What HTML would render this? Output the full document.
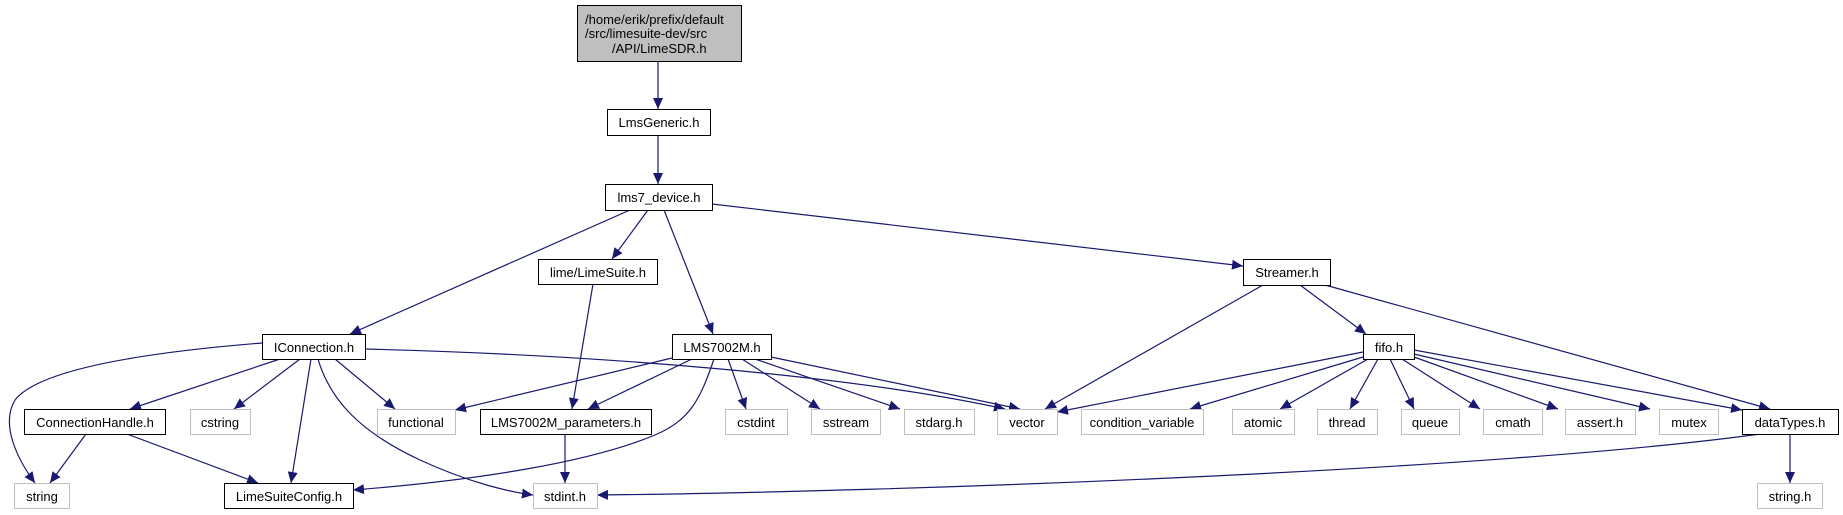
<!DOCTYPE html>
<html><head><meta charset="utf-8"><style>
html,body{margin:0;padding:0;background:#fff;}
svg{display:block;}
text{font-family:"Liberation Sans",Helvetica,sans-serif;font-size:13px;fill:#000;}
</style></head><body>
<svg width="1843" height="515" viewBox="0 0 1843 515" xmlns="http://www.w3.org/2000/svg">
<defs>
<marker id="a" markerUnits="userSpaceOnUse" markerWidth="12" markerHeight="10" refX="11" refY="5" orient="auto">
<path d="M0,0 L11,5 L0,10 Z" fill="#191970"/>
</marker>
</defs>
<g fill="none" stroke="#191970" stroke-width="1.2" marker-end="url(#a)">
<path d="M658,61 L658,109"/>
<path d="M658,135 L658,184"/>
<path d="M630,210 L350,334"/>
<path d="M648,210 L612,259"/>
<path d="M664,210 L713,334"/>
<path d="M712,204 L1243,266"/>
<path d="M593,284 L572,409"/>
<path d="M262,343 C150,352 40,368 15,400 C0,425 18,460 35,483"/>
<path d="M280,359 L130,409"/>
<path d="M300,359 L234,409"/>
<path d="M311,359 L291,483"/>
<path d="M318,359 C330,400 360,432 420,460 C470,483 510,492 533,495"/>
<path d="M335,359 L395,409"/>
<path d="M365,349 C600,355 850,375 1005,409"/>
<path d="M86,434 L50,483"/>
<path d="M127,434 L258,483"/>
<path d="M672,358 L455,410"/>
<path d="M692,359 L588,409"/>
<path d="M714,359 C700,400 690,420 655,435 C590,462 480,480 353,490"/>
<path d="M728,359 L746,409"/>
<path d="M742,359 L820,409"/>
<path d="M755,359 L900,409"/>
<path d="M771,357 L1020,409"/>
<path d="M565,434 L565,483"/>
<path d="M1263,285 L1045,409"/>
<path d="M1300,285 L1366,334"/>
<path d="M1325,285 L1770,409"/>
<path d="M1363,352 L1057,412"/>
<path d="M1363,357 L1190,409"/>
<path d="M1368,359 L1280,409"/>
<path d="M1378,359 L1350,409"/>
<path d="M1390,359 L1414,409"/>
<path d="M1402,359 L1480,409"/>
<path d="M1414,357 L1558,409"/>
<path d="M1414,354 L1650,409"/>
<path d="M1414,350 L1742,410"/>
<path d="M1760,434 C1500,470 900,492 597,495"/>
<path d="M1790,434 L1790,483"/>
</g>
<g stroke-width="1">
<rect x="577.5" y="5.5" width="164" height="56" fill="#bfbfbf" stroke="#000"/>
<g fill="#fff" stroke="#000">
<rect x="607.5" y="109.5" width="103" height="26"/>
<rect x="605.5" y="184.5" width="107" height="26"/>
<rect x="538.5" y="259.5" width="119" height="25"/>
<rect x="1243.5" y="259.5" width="87" height="26"/>
<rect x="262.5" y="334.5" width="103" height="25"/>
<rect x="672.5" y="334.5" width="99" height="25"/>
<rect x="1363.5" y="334.5" width="51" height="25"/>
<rect x="24.5" y="409.5" width="141" height="25"/>
<rect x="480.5" y="409.5" width="171" height="25"/>
<rect x="1742.5" y="409.5" width="96" height="25"/>
<rect x="224.5" y="483.5" width="129" height="25"/>
</g>
<g fill="#fff" stroke="#bfbfbf">
<rect x="190.5" y="409.5" width="60" height="25"/>
<rect x="377.5" y="409.5" width="78" height="25"/>
<rect x="725.5" y="409.5" width="62" height="25"/>
<rect x="811.5" y="409.5" width="69" height="25"/>
<rect x="904.5" y="409.5" width="70" height="25"/>
<rect x="997.5" y="409.5" width="60" height="25"/>
<rect x="1081.5" y="409.5" width="122" height="25"/>
<rect x="1232.5" y="409.5" width="62" height="25"/>
<rect x="1317.5" y="409.5" width="60" height="25"/>
<rect x="1401.5" y="409.5" width="58" height="25"/>
<rect x="1483.5" y="409.5" width="59" height="25"/>
<rect x="1565.5" y="409.5" width="70" height="25"/>
<rect x="1659.5" y="409.5" width="59" height="25"/>
<rect x="14.5" y="483.5" width="55" height="25"/>
<rect x="533.5" y="483.5" width="64" height="25"/>
<rect x="1757.5" y="483.5" width="65" height="25"/>
</g>
</g>
<text x="585" y="24">/home/erik/prefix/default</text>
<text x="585" y="38">/src/limesuite-dev/src</text>
<text x="612" y="53">/API/LimeSDR.h</text>
<g text-anchor="middle">
<text x="659" y="127">LmsGeneric.h</text>
<text x="659" y="202">lms7_device.h</text>
<text x="598" y="277">lime/LimeSuite.h</text>
<text x="1287" y="277">Streamer.h</text>
<text x="314" y="352">IConnection.h</text>
<text x="722" y="352">LMS7002M.h</text>
<text x="1389" y="352">fifo.h</text>
<text x="95" y="427">ConnectionHandle.h</text>
<text x="220" y="427">cstring</text>
<text x="416" y="427">functional</text>
<text x="566" y="427">LMS7002M_parameters.h</text>
<text x="756" y="427">cstdint</text>
<text x="846" y="427">sstream</text>
<text x="939" y="427">stdarg.h</text>
<text x="1027" y="427">vector</text>
<text x="1142" y="427">condition_variable</text>
<text x="1263" y="427">atomic</text>
<text x="1347" y="427">thread</text>
<text x="1430" y="427">queue</text>
<text x="1513" y="427">cmath</text>
<text x="1600" y="427">assert.h</text>
<text x="1689" y="427">mutex</text>
<text x="1790" y="427">dataTypes.h</text>
<text x="42" y="501">string</text>
<text x="289" y="501">LimeSuiteConfig.h</text>
<text x="565" y="501">stdint.h</text>
<text x="1790" y="501">string.h</text>
</g>
</svg>
</body></html>
